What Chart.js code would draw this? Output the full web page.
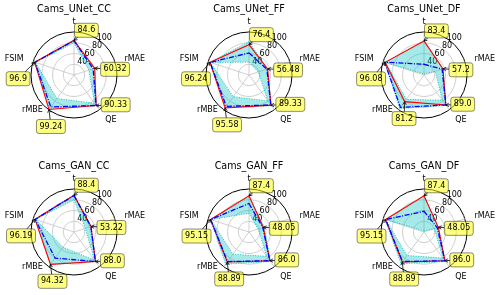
<!DOCTYPE html>
<html>
<head>
<meta charset="utf-8">
<script src="https://cdn.jsdelivr.net/npm/chart.js@4.4.0/dist/chart.umd.min.js"></script>
<style>
  html, body { margin: 0; padding: 0; background: #fff; }
  body { width: 500px; height: 295px; position: relative; overflow: hidden; }
  canvas { position: absolute; }
</style>
</head>
<body>
<script>
'use strict';

// data (axis order: t, rMAE, QE, rMBE, FSIM)
let categories = ['t', 'rMAE', 'QE', 'rMBE', 'FSIM'];
let titles = ['Cams_UNet_CC', 'Cams_UNet_FF', 'Cams_UNet_DF', 'Cams_GAN_CC', 'Cams_GAN_FF', 'Cams_GAN_DF'];
let tickValues = [40, 60, 80, 100];

let redValues = [
    [84.6, 60.32, 90.33, 99.24, 96.9],
    [76.4, 56.48, 89.33, 95.58, 96.24],
    [83.4, 57.2, 89.0, 81.2, 96.08],
    [88.4, 53.22, 88.0, 94.32, 96.19],
    [87.4, 48.05, 86.0, 88.89, 95.15],
    [87.4, 48.05, 86.0, 88.89, 95.15]
];
let blueValues = [
    [84.0, 57.5, 90.0, 93.5, 96.5],
    [61.0, 55.0, 89.0, 92.0, 96.0],
    [40.0, 55.5, 89.0, 94.5, 97.0],
    [88.0, 53.0, 88.0, 80.0, 96.0],
    [73.0, 47.0, 86.0, 88.0, 95.0],
    [58.5, 46.0, 86.0, 88.0, 95.0]
];
let bandHigh = [
    [84.0, 57.0, 89.5, 97.5, 96.5],
    [82.0, 56.0, 91.0, 95.0, 96.5],
    [83.4, 57.0, 90.0, 97.0, 97.0],
    [88.0, 51.0, 88.0, 95.0, 96.0],
    [85.0, 50.0, 88.0, 94.0, 95.5],
    [87.0, 48.0, 88.0, 93.0, 96.0]
];
let bandLow = [
    [80.0, 49.0, 85.0, 74.0, 95.0],
    [44.0, 38.0, 80.0, 70.0, 95.5],
    [22.0, 42.0, 78.0, 76.0, 95.0],
    [80.0, 42.0, 85.0, 55.0, 95.0],
    [55.0, 38.0, 76.0, 71.0, 94.5],
    [22.0, 40.0, 80.0, 74.0, 94.5]
];

// layout
let centers = [[74, 75], [249, 75], [424, 75], [74, 232], [249, 232], [424, 232]];
let canvasW = 170;
let canvasH = 150;
let radius = 43;

// label alignment per axis, and where the value boxes sit relative to the point
let labelAlign = ['center', 'left', 'left', 'right', 'right'];
let labelShift = [0, 0, 2, -8, 0];
let boxOffsets = [[0.5, -10], [6, 1], [5, -0.8], [-12.5, 17], [-28.5, 16.5]];

let fontFamily = '"DejaVu Sans", sans-serif';

function pyStr(v) {
    return Number.isInteger(v) ? v.toFixed(1) : String(v);
}

function roundRect(ctx, x, y, w, h, r) {
    ctx.beginPath();
    ctx.moveTo(x + r, y);
    ctx.lineTo(x + w - r, y);
    ctx.quadraticCurveTo(x + w, y, x + w, y + r);
    ctx.lineTo(x + w, y + h - r);
    ctx.quadraticCurveTo(x + w, y + h, x + w - r, y + h);
    ctx.lineTo(x + r, y + h);
    ctx.quadraticCurveTo(x, y + h, x, y + h - r);
    ctx.lineTo(x, y + r);
    ctx.quadraticCurveTo(x, y, x + r, y);
    ctx.closePath();
}

let decorPlugin = {
    id: 'decor',
    beforeDatasetsDraw(chart) {
        let scale = chart.scales.r;
        let ctx = chart.ctx;
        let a = 43 * Math.PI / 180;
        ctx.save();
        ctx.font = '8px ' + fontFamily;
        ctx.fillStyle = '#000';
        ctx.textAlign = 'center';
        ctx.textBaseline = 'middle';
        tickValues.forEach(v => {
            let d = scale.getDistanceFromCenterForValue(v);
            ctx.fillText(String(v), scale.xCenter + d * Math.sin(a) + 1, scale.yCenter - d * Math.cos(a) - 5.5);
        });
        ctx.restore();
    },
    afterDraw(chart) {
        let scale = chart.scales.r;
        let ctx = chart.ctx;
        let n = chart.options.plugins.decor.index;
        ctx.save();

        // title
        ctx.font = '9.6px ' + fontFamily;
        ctx.fillStyle = '#000';
        ctx.textAlign = 'center';
        ctx.textBaseline = 'middle';
        ctx.fillText(titles[n], scale.xCenter, scale.yCenter - 66);

        // axis names
        ctx.font = '8px ' + fontFamily;
        categories.forEach((name, i) => {
            let p = scale.getPointPosition(i, scale.drawingArea + 10);
            ctx.textAlign = labelAlign[i];
            ctx.fillText(name, p.x, p.y + labelShift[i]);
        });

        // value boxes with arrows
        redValues[n].forEach((v, i) => {
            let p = scale.getPointPositionForValue(i, v);
            let text = pyStr(v);
            let w = ctx.measureText(text).width + 6;
            let h = 14;
            let left = p.x + boxOffsets[i][0];
            let cy = p.y + boxOffsets[i][1];
            let cx = left + w / 2;

            let vx = p.x - cx;
            let vy = p.y - cy;
            let t = Math.min(Math.abs(vx) > 0 ? (w / 2) / Math.abs(vx) : Infinity,
                             Math.abs(vy) > 0 ? (h / 2) / Math.abs(vy) : Infinity);
            ctx.strokeStyle = '#000';
            ctx.lineWidth = 0.8;
            if (t < 1) {
                ctx.beginPath();
                ctx.moveTo(cx + vx * t, cy + vy * t);
                ctx.lineTo(p.x, p.y);
                ctx.stroke();
            }
            let ang = Math.atan2(vy, vx);
            ctx.beginPath();
            ctx.moveTo(p.x - 3.5 * Math.cos(ang - 0.5), p.y - 3.5 * Math.sin(ang - 0.5));
            ctx.lineTo(p.x, p.y);
            ctx.lineTo(p.x - 3.5 * Math.cos(ang + 0.5), p.y - 3.5 * Math.sin(ang + 0.5));
            ctx.stroke();

            roundRect(ctx, left, cy - h / 2, w, h, 2.5);
            ctx.fillStyle = 'rgba(255,255,0,0.5)';
            ctx.fill();
            ctx.strokeStyle = 'rgba(0,0,0,0.45)';
            ctx.lineWidth = 1;
            ctx.stroke();
            ctx.fillStyle = '#000';
            ctx.textAlign = 'center';
            ctx.fillText(text, cx, cy);
        });
        ctx.restore();
    }
};

function makeChart(n) {
    let canvas = document.createElement('canvas');
    canvas.width = canvasW;
    canvas.height = canvasH;
    canvas.style.left = (centers[n][0] - canvasW / 2) + 'px';
    canvas.style.top = (centers[n][1] - canvasH / 2) + 'px';
    document.body.appendChild(canvas);

    let padX = canvasW / 2 - radius;
    let padY = canvasH / 2 - radius;

    new Chart(canvas.getContext('2d'), {
        type: 'radar',
        data: {
            labels: categories,
            datasets: [
                {
                    data: blueValues[n],
                    borderColor: '#0000ff',
                    borderWidth: 1.3,
                    borderDash: [5, 1.5, 1, 1.5],
                    fill: false,
                    pointRadius: 0
                },
                {
                    data: redValues[n],
                    borderColor: '#ff0000',
                    borderWidth: 1.1,
                    fill: false,
                    pointRadius: 0
                },
                {
                    data: bandLow[n],
                    borderColor: '#00bfbf',
                    borderWidth: 0.9,
                    borderDash: [1, 1.5],
                    fill: false,
                    pointRadius: 0
                },
                {
                    data: bandHigh[n],
                    borderColor: '#00bfbf',
                    borderWidth: 0.9,
                    borderDash: [1, 1.5],
                    backgroundColor: 'rgba(0,191,191,0.35)',
                    fill: '-1',
                    pointRadius: 0
                }
            ]
        },
        options: {
            responsive: false,
            animation: false,
            layout: { padding: { left: padX, right: padX, top: padY, bottom: padY } },
            plugins: {
                legend: { display: false },
                tooltip: { enabled: false },
                decor: { index: n }
            },
            scales: {
                r: {
                    min: 20,
                    max: 100,
                    ticks: { display: false, stepSize: 20 },
                    pointLabels: { display: false },
                    grid: {
                        circular: true,
                        color: c => c.tick && c.tick.value === 100 ? '#000' : '#c4c4c4',
                        lineWidth: c => c.tick && c.tick.value === 100 ? 1 : 0.8
                    },
                    angleLines: { color: '#c4c4c4', lineWidth: 0.8 }
                }
            }
        },
        plugins: [decorPlugin]
    });
}

for (let i = 0; i < titles.length; i++) {
    makeChart(i);
}
</script>
</body>
</html>
